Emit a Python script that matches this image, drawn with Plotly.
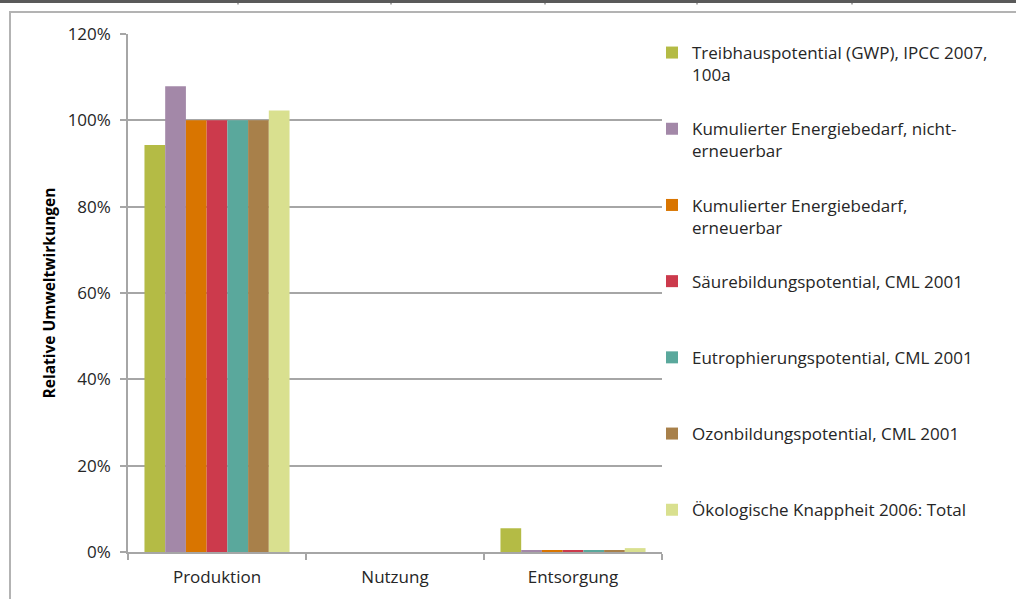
import plotly.graph_objects as go

categories = ["Produktion", "Nutzung", "Entsorgung"]

series_names = [
    "Treibhauspotential (GWP), IPCC 2007,<br>100a",
    "Kumulierter Energiebedarf, nicht-<br>erneuerbar",
    "Kumulierter Energiebedarf,<br>erneuerbar",
    "Säurebildungspotential, CML 2001<br> ",
    "Eutrophierungspotential, CML 2001<br> ",
    "Ozonbildungspotential, CML 2001<br> ",
    "Ökologische Knappheit 2006: Total<br> ",
]

gwp = [0.943, 0.0, 0.055]
kea_nicht = [1.079, 0.0, 0.003]
kea_ern = [1.0, 0.0, 0.003]
saeure = [1.0, 0.0, 0.003]
eutro = [1.0, 0.0, 0.003]
ozon = [1.0, 0.0, 0.003]
oeko = [1.023, 0.0, 0.009]

series_values = [gwp, kea_nicht, kea_ern, saeure, eutro, ozon, oeko]
colors = ["#b4bb45", "#a388a8", "#d97500", "#cc3a4c", "#5aa89c", "#a8804a", "#d9e08f"]

FONT = "Open Sans"
TXT = "#262626"
GRID = "#a6a6a6"
FS = 17
LFS = 17

fig = go.Figure()
for name, vals, c in zip(series_names, series_values, colors):
    fig.add_trace(go.Bar(
        x=categories, y=vals, name=name, legendgroup=name,
        marker=dict(color=c, line=dict(width=0)),
    ))

# pixel -> paper helpers for the frame decorations
L, R, T, B = 128, 354, 34, 47
W, H = 1016, 599
pw, ph = W - L - R, H - T - B


def px(p):
    return (p - L) / pw


def py(q):
    return (H - B - q) / ph


shapes = [
    dict(type="rect", xref="paper", yref="paper", x0=px(0), x1=px(W), y0=py(0), y1=py(3),
         fillcolor="#5a5a5a", line=dict(width=0)),
    dict(type="line", xref="paper", yref="paper", x0=px(9), x1=px(W + 5), y0=py(12), y1=py(12),
         line=dict(color="#b3b3b3", width=2)),
    dict(type="line", xref="paper", yref="paper", x0=px(10), x1=px(10), y0=py(12), y1=py(H + 5),
         line=dict(color="#b3b3b3", width=2)),
]
for tx in [238, 391, 545, 697, 852]:
    shapes.append(dict(type="line", xref="paper", yref="paper", x0=px(tx), x1=px(tx),
                       y0=py(0), y1=py(4.5), line=dict(color="#5a5a5a", width=1)))

fig.update_layout(
    width=W, height=H,
    margin=dict(l=L, r=R, t=T, b=B, autoexpand=False),
    paper_bgcolor="white", plot_bgcolor="white",
    barmode="group", bargap=0.185, bargroupgap=0,
    font=dict(family=FONT, size=FS, color=TXT),
    shapes=shapes,
    legend=dict(
        x=px(652), y=py(35), xanchor="left", yanchor="top",
        valign="top", tracegroupgap=29, traceorder="grouped",
        font=dict(family=FONT, size=LFS, color=TXT),
        bgcolor="rgba(0,0,0,0)",
    ),
    xaxis=dict(
        showline=True, linecolor=GRID, linewidth=1.5,
        ticks="outside", ticklen=6, tickcolor=GRID, tickwidth=1.5,
        tickson="boundaries", tickfont=dict(size=FS, color=TXT),
        ticklabelstandoff=9,
        showgrid=False,
    ),
    yaxis=dict(
        range=[0, 1.2], dtick=0.2, tickformat=".0%",
        showline=True, linecolor=GRID, linewidth=1.5,
        ticks="outside", ticklen=6, tickcolor=GRID, tickwidth=1.5,
        ticklabelstandoff=6,
        showgrid=True, gridcolor=GRID, gridwidth=1.5, zeroline=False,
        tickfont=dict(size=FS, color=TXT),
        title=dict(text="<b>Relative Umweltwirkungen</b>", font=dict(size=15.5, color="#000000"),
                   standoff=8),
    ),
)

fig.write_html("out.html", config={"displayModeBar": False},
               post_script="document.body.style.margin='0';")
